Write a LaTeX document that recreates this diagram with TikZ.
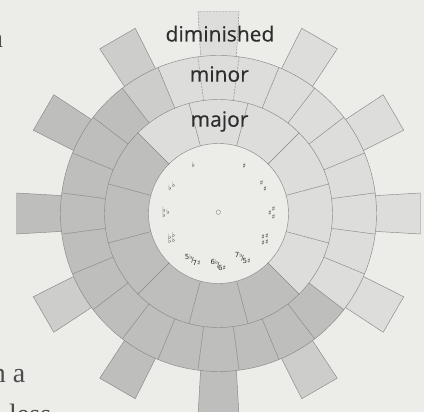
\documentclass[tikz,border=0pt]{standalone}
\usepackage{fontspec}
\setmainfont{Open Sans}
\newfontfamily\ringfont{Open Sans}[FakeBold=0.35]
\newfontfamily\pagefont{Liberation Serif}
\newfontfamily\symfont{DejaVu Sans}
\definecolor{paper}{RGB}{236,236,233}
\definecolor{lightseg}{RGB}{221,221,220}
\definecolor{midseg}{RGB}{205,205,204}
\definecolor{darkseg}{RGB}{190,190,189}
\definecolor{segline}{RGB}{135,135,135}
\definecolor{textcol}{RGB}{45,45,45}
\begin{document}
\begin{tikzpicture}[x=1pt,y=1pt,
  edge/.style={draw=segline, line width=0.45pt},
  tabbox/.style={draw=segline, line width=0.45pt},
  ringword/.style={font=\ringfont\fontsize{21}{21}\selectfont, text=textcol, anchor=base, inner sep=0pt},
  pageword/.style={font=\pagefont\fontsize{28}{28}\selectfont, text=textcol!85, inner sep=0pt},
  acc/.style={font=\symfont\fontsize{7}{7}\selectfont, text=textcol, inner sep=0pt},
  fracl/.style={font=\symfont\fontsize{7}{7}\selectfont, text=textcol, inner sep=0pt}]
\useasboundingbox (0,0) rectangle (424,412);
\fill[paper] (0,0) rectangle (424,412);
\clip (0,0) rectangle (424,412);
\begin{scope}[shift={(218.5,198.5)}]
  % diminished tabs
  \foreach \a/\c in {60/lightseg,30/lightseg,0/lightseg,-30/lightseg,-60/midseg,-90/darkseg,-120/darkseg,-150/midseg,180/darkseg,150/darkseg,120/midseg}{
    \begin{scope}[rotate=\a]
      \filldraw[tabbox, fill=\c] (150,-17.5) -- (202,-20.5) -- (202,20.5) -- (150,17.5) -- cycle;
    \end{scope}
  }
  \begin{scope}[rotate=90]
    \fill[lightseg] (150,-17.5) -- (202,-20.5) -- (202,20.5) -- (150,17.5) -- cycle;
    \draw[tabbox, dash pattern=on 2pt off 1.2pt] (150,-17.5) -- (202,-20.5) -- (202,20.5) -- (150,17.5);
  \end{scope}
  % minor ring
  \foreach \a/\c in {-30/lightseg,-15/lightseg,0/lightseg,15/lightseg,30/lightseg,45/lightseg,60/lightseg,75/lightseg,90/lightseg,105/lightseg,120/midseg,135/darkseg,150/darkseg,165/darkseg,180/darkseg,195/darkseg,210/darkseg,225/darkseg,240/darkseg,255/darkseg,270/darkseg,285/darkseg,300/darkseg,315/darkseg}{
    \fill[\c] (\a-7.5:114) arc[start angle=\a-7.5, end angle=\a+7.5, radius=114] -- (\a+7.5:158) arc[start angle=\a+7.5, end angle=\a-7.5, radius=158] -- cycle;
  }
  \foreach \b in {7.5,22.5,37.5,52.5,67.5,112.5,127.5,142.5,157.5,172.5,187.5,202.5,217.5,232.5,247.5,262.5,277.5,292.5,307.5,322.5,337.5,352.5}{
    \draw[edge] (\b:114) -- (\b:158);
  }
  \foreach \b in {82.5,97.5}{
    \draw[edge, dash pattern=on 2pt off 1.2pt] (\b:114) -- (\b:158);
  }
  % major ring
  \foreach \a/\c in {-30/lightseg,0/lightseg,30/lightseg,60/lightseg,90/lightseg,120/lightseg,150/darkseg,180/darkseg,210/darkseg,240/darkseg,270/darkseg,300/darkseg}{
    \fill[\c] (\a-15:70) arc[start angle=\a-15, end angle=\a+15, radius=70] -- (\a+15:114) arc[start angle=\a+15, end angle=\a-15, radius=114] -- cycle;
  }
  \foreach \b in {15,45,...,345}{
    \draw[edge] (\b:70) -- (\b:114);
  }
  \draw[edge] (0,0) circle[radius=158];
  \draw[edge] (0,0) circle[radius=114];
  \filldraw[edge, fill=paper] (0,0) circle[radius=70];
\end{scope}
% ring names
\node[ringword] (dim) at (220,370.5) {diminished};
\node[ringword] (min) at (219.3,330.3) {minor};
\node[ringword] (maj) at (219.5,285.3) {major};
% key signatures
\node[acc] (k1f) at (193.3,247) {♭};
\node[acc] (k1s) at (244.3,246.3) {♯};
\node[acc] (k2f) at (171.7,226) {♭\kern0.2pt\raisebox{3pt}{♭}};
\node[acc] (k2s) at (263.3,226) {\raisebox{3pt}{♯}\kern0.2pt\raisebox{-3pt}{♯}};
\node[acc] (k3f) at (166,199.7) {\rlap{\raisebox{5pt}{♭}}♭\kern0.6pt\raisebox{2.5pt}{♭}};
\node[acc] (k3s) at (271.7,199) {♯\kern0.4pt\rlap{\raisebox{4pt}{♯}}\raisebox{-4pt}{♯}};
\node[acc] (k4f) at (171.7,173.7) {\rlap{\raisebox{4.5pt}{♭}}♭\kern0.4pt\rlap{\raisebox{6pt}{♭}}\raisebox{1.5pt}{♭}};
\node[acc] (k4s) at (265,172.7) {\rlap{\raisebox{3.5pt}{♯}}\raisebox{-2.5pt}{♯}\kern0.4pt\rlap{\raisebox{5pt}{♯}}\raisebox{-1pt}{♯}};
\node[fracl] (k5) at (192.7,152) {\raisebox{3pt}{5♭}\kern-1.2pt/\kern-1.2pt\raisebox{-3pt}{7♯}};
\node[fracl] (k6) at (218.3,147) {\raisebox{3pt}{6♭}\kern-1.2pt/\kern-1.2pt\raisebox{-3pt}{6♯}};
\node[fracl] (k7) at (242.7,153.7) {\raisebox{3pt}{7♭}\kern-1.2pt/\kern-1.2pt\raisebox{-3pt}{5♯}};
\node[draw=segline, circle, minimum size=4.5pt, inner sep=0pt, line width=0.4pt] (pin) at (218.3,199.8) {};
% page text at the margins
\node[pageword, anchor=base east] (pg1) at (3.2,364) {n};
\node[pageword, anchor=base east] (pg2) at (25.5,29) {n a};
\node[pageword, anchor=base west] (pg3) at (9,-12) {less};
\end{tikzpicture}
\end{document}
